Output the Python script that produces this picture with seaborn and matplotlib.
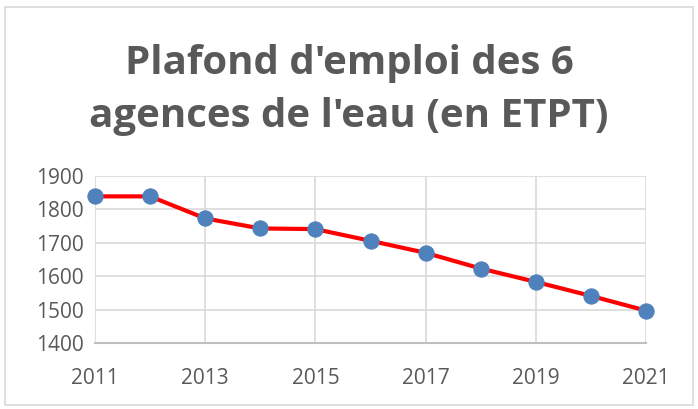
import numpy as np
import pandas as pd
import matplotlib
matplotlib.use("Agg")
import matplotlib.pyplot as plt
import seaborn as sns

years = [2011, 2012, 2013, 2014, 2015, 2016, 2017, 2018, 2019, 2020, 2021]
etpt = [1839, 1839, 1773, 1743, 1741, 1706, 1670, 1623, 1583, 1541, 1497]
title = "Plafond d'emploi des 6\nagences de l'eau (en ETPT)"

df = pd.DataFrame({"annee": years, "etpt": etpt})

sns.set_style("white")
plt.rcParams['font.family'] = ['Open Sans', 'DejaVu Sans']

fig = plt.figure(figsize=(6.98, 4.09), dpi=100)
ax = fig.add_axes([95 / 698, 1 - 343 / 409, (646 - 95) / 698, (343 - 176) / 409])

sns.lineplot(data=df, x="annee", y="etpt", ax=ax, color="#ff0000", linewidth=3,
             marker="o", markersize=11, markerfacecolor="#4f81bd",
             markeredgecolor="#4f81bd", zorder=3, clip_on=False)

ax.set_xlim(2011, 2021)
ax.set_ylim(1400, 1900)
ax.set_xticks(range(2011, 2022, 2))
ax.set_yticks(range(1400, 1901, 100))
ax.grid(True, color="#d9d9d9", linewidth=1.2)
ax.set_axisbelow(True)
for s in ["top", "right", "left"]:
    ax.spines[s].set_visible(False)
ax.spines["bottom"].set_color("#bfbfbf")
ax.spines["bottom"].set_linewidth(1.5)
ax.tick_params(axis="both", length=0, labelsize=15, labelcolor="#595959")
ax.tick_params(axis="x", pad=18)
ax.tick_params(axis="y", pad=8)
ax.set_xlabel("")
ax.set_ylabel("")

fig.text(0.5, 1 - 90 / 409, title, ha="center", va="center", fontsize=29,
         fontweight="bold", color="#595959", linespacing=1.45)

# outer chart border
border = plt.Rectangle((5 / 698, 4 / 409), 688 / 698, 398 / 409, transform=fig.transFigure,
                       fill=False, edgecolor="#d9d9d9", linewidth=1.2)
fig.patches.append(border)

fig.savefig("out.png", dpi=100)
plt.close()
